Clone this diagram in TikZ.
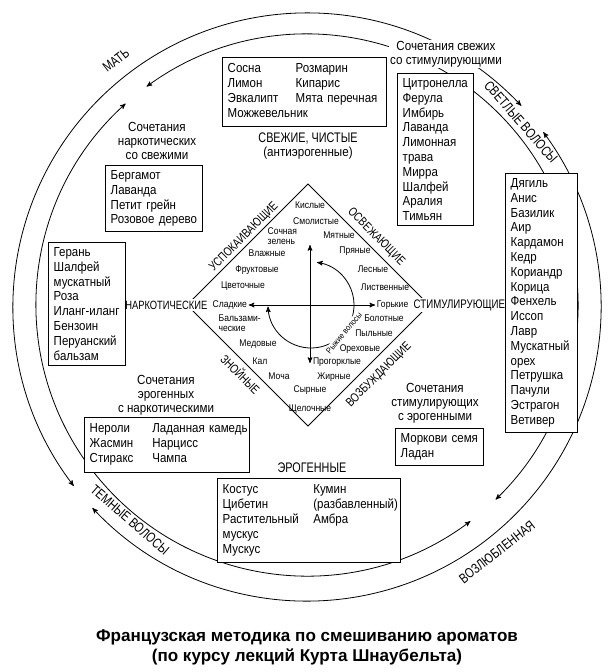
\documentclass[tikz,border=0pt]{standalone}
\usepackage{fontspec}
\setmainfont{Liberation Sans}[FakeStretch=0.88]
\newfontfamily\uzkij{Liberation Sans}[FakeStretch=0.78]
\newfontfamily\podpis{Liberation Sans}
\usepackage{tikz}
\usetikzlibrary{arrows}

\begin{document}
\begin{tikzpicture}[x=0.75pt,y=-0.75pt,>=stealth',line width=0.6pt,
    spisok/.style={draw,fill=white,anchor=north west,align=left,inner xsep=4pt,inner ysep=3.8pt,font=\fontsize{9.8}{11.1}\selectfont},
    gruppa/.style={align=center,inner sep=1pt,font=\fontsize{9.9}{10.6}\selectfont},
    zaglav/.style={inner sep=1pt,font=\uzkij\fontsize{10.4}{12}\selectfont},
    slovo/.style={inner sep=1pt,font=\fontsize{7.3}{7.6}\selectfont},
    rebro/.style={inner sep=1pt,font=\uzkij\fontsize{9.3}{10}\selectfont},
    krug/.style={inner sep=1pt,font=\uzkij\fontsize{10.4}{11}\selectfont}]
      \useasboundingbox (0,0) rectangle (615,672);
      % two rings with arrows
      \draw[<->] (307,307) ++(-43.2:294) arc[start angle=-43.2,end angle=-217.5,radius=294];
      \draw[<->] (307,307) ++(-223.1:294) arc[start angle=-223.1,end angle=-396.5,radius=294];
      \draw[<->] (307,305) ++(45.9:271) arc[start angle=45.9,end angle=-126.3,radius=271];
      \draw[<->] (307,305) ++(-132:271) arc[start angle=-132,end angle=-307.1,radius=271];
      \node [krug,rotate=38]  (mat)   at (116,60)  {МАТЬ};
      \node [krug,rotate=-49] (svetl) at (521,122) {СВЕТЛЫЕ ВОЛОСЫ};
      \node [krug,rotate=38]  (vozl)  at (497,552) {ВОЗЛЮБЛЕННАЯ};
      \node [krug,rotate=-41] (temn)  at (130,520) {ТЕМНЫЕ ВОЛОСЫ};
      % square
      \coordinate (verh)  at (308,184);
      \coordinate (pravo) at (429,305);
      \coordinate (niz)   at (308,426);
      \coordinate (levo)  at (187,305);
      \draw (verh) -- (pravo) -- (niz) -- (levo) -- cycle;
      \coordinate (osN) at (310,245);
      \coordinate (osS) at (310,363);
      \draw[<->] (osS) -- (osN);
      \draw[<->] (311,305) ++(-182:43) arc[start angle=-182,end angle=-442,radius=43];
      \node [slovo,fill=white,rotate=50,font=\fontsize{6.3}{7}\selectfont] (ryzh) at (344,333) {Рыжие волосы};
      \node [slovo] (kisl)    at (310,205) {Кислые};
      \node [slovo] (smol)    at (316,221) {Смолистые};
      \node [slovo,anchor=west,align=left] (sochn) at (266,236) {Сочная\\зелень};
      \node [slovo] (myat)    at (339,235) {Мятные};
      \node [slovo] (vlazh)   at (267,253) {Влажные};
      \node [slovo] (pryan)   at (355,251) {Пряные};
      \node [slovo] (frukt)   at (257,270) {Фруктовые};
      \node [slovo] (lesn)    at (373,269) {Лесные};
      \node [slovo] (cvet)    at (243,286) {Цветочные};
      \node [slovo] (listv)   at (385,287) {Лиственные};
      \node [slovo,anchor=west] (sladk) at (211,305) {Сладкие};
      \node [slovo,anchor=east] (gork)  at (410,305) {Горькие};
      \node [slovo,anchor=west,align=left] (balz) at (217,323) {Бальзами-\\ческие};
      \node [slovo] (bolot)   at (384,318) {Болотные};
      \node [slovo] (pyl)     at (374,333) {Пыльные};
      \node [slovo] (med)     at (258,344) {Медовые};
      \node [slovo] (oreh)    at (360,349) {Ореховые};
      \node [slovo] (kal)     at (260,361) {Кал};
      \node [slovo] (progork) at (337,362) {Прогорклые};
      \node [slovo] (mocha)   at (279,376) {Моча};
      \node [slovo] (zhir)    at (334,377) {Жирные};
      \node [slovo] (syr)     at (310,390) {Сырные};
      \node [slovo] (shchel)  at (310,409) {Щелочные};
      \draw[<->] (sladk) -- (gork);
      \node [rebro,rotate=45]  (uspok)  at (244,237) {УСПОКАИВАЮЩИЕ};
      \node [rebro,rotate=-45] (osvezh) at (376,237) {ОСВЕЖАЮЩИЕ};
      \node [rebro,rotate=-45] (znoin)  at (241,374) {ЗНОЙНЫЕ};
      \node [rebro,rotate=45]  (vozb)   at (379,375) {ВОЗБУЖДАЮЩИЕ};
      \node [rebro,fill=white,anchor=east,font=\uzkij\fontsize{9}{10}\selectfont] (nark) at (209,305) {НАРКОТИЧЕСКИЕ};
      \node [rebro,fill=white,anchor=west] (stim) at (412,305) {СТИМУЛИРУЮЩИЕ};
      % groups and lists
      \node [gruppa,fill=white] (svst) at (446,54)  {Сочетания свежих\\со стимулирующими};
      \node [gruppa] (nasv) at (157,141) {Сочетания\\наркотических\\со свежими};
      \node [gruppa] (erna) at (166,395) {Сочетания\\эрогенных\\с наркотическими};
      \node [gruppa] (ster) at (435,403) {Сочетания\\стимулирующих\\с эрогенными};
      \node [gruppa] (svezh) at (308,146) {{\uzkij\fontsize{10.4}{12}\selectfont СВЕЖИЕ, ЧИСТЫЕ}\\(антиэрогенные)};
      \node [zaglav] (erog) at (312,468) {ЭРОГЕННЫЕ};
      \node [spisok,text width=115pt] (svezhie) at (222,57)
        {\begin{tabular}{@{}p{51pt}@{}l@{}}Сосна & Розмарин\\ Лимон & Кипарис\\ Эвкалипт & Мята перечная\\ \multicolumn{2}{@{}l@{}}{Можжевельник}\end{tabular}};
      \node [spisok,text width=49pt] (svst1) at (397,73)
        {Цитронелла\\Ферула\\Имбирь\\Лаванда\\Лимонная\\трава\\Мирра\\Шалфей\\Аралия\\Тимьян};
      \node [spisok,text width=46pt] (stimul) at (505,173)
        {Дягиль\\Анис\\Базилик\\Аир\\Кардамон\\Кедр\\Кориандр\\Корица\\Фенхель\\Иссоп\\Лавр\\Мускатный\\орех\\Петрушка\\Пачули\\Эстрагон\\Ветивер};
      \node [spisok,text width=65pt] (nasv1) at (105,165)
        {Бергамот\\Лаванда\\Петит грейн\\Розовое дерево};
      \node [spisok,text width=50pt] (narkot) at (48,242)
        {Герань\\Шалфей\\мускатный\\Роза\\Иланг-иланг\\Бензоин\\Перуанский\\бальзам};
      \node [spisok,text width=116pt] (erna1) at (84,417)
        {\begin{tabular}{@{}p{47pt}@{}l@{}}Нероли & Ладанная камедь\\ Жасмин & Нарцисс\\ Стиракс & Чампа\end{tabular}};
      \node [spisok,text width=129pt] (erogen) at (217,478)
        {\begin{tabular}{@{}p{68pt}@{}l@{}}Костус & Кумин\\ Цибетин & (разбавленный)\\ Растительный & Амбра\\ мускус & \\ Мускус & \end{tabular}};
      \node [spisok,text width=58pt] (ster1) at (395,428)
        {Моркови семя\\Ладан};
      \node [align=center,font=\podpis\bfseries\fontsize{12.8}{15}\selectfont] (podp) at (307,647)
        {Французская методика по смешиванию ароматов\\(по курсу лекций Курта Шнаубельта)};
    \end{tikzpicture}
\end{document}
